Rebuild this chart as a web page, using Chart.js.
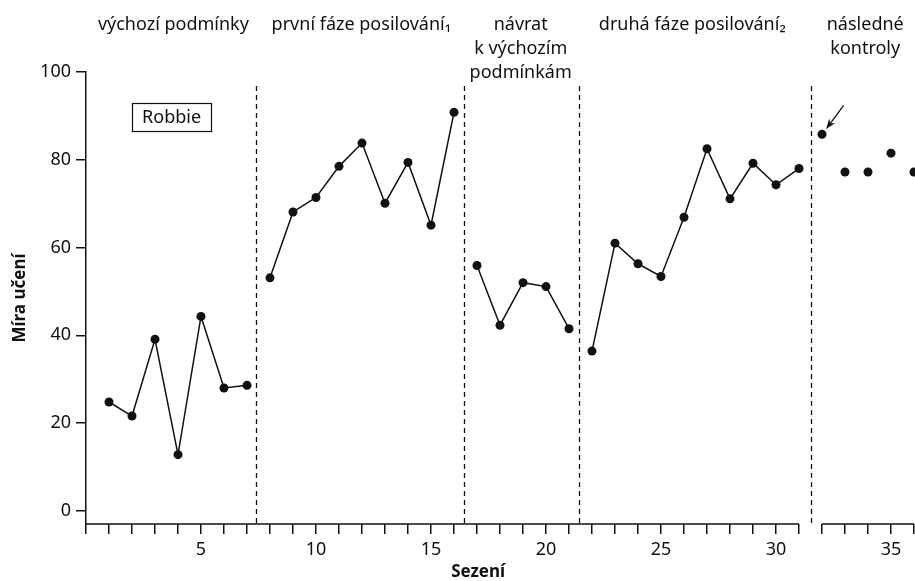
<!DOCTYPE html>
<html lang="cs">

<head>
    <meta charset="UTF-8">
    <title>Míra učení – Robbie</title>
    <script src="https://cdn.jsdelivr.net/npm/chart.js"></script>
    <style>
        html, body { margin: 0; padding: 0; background: #fff; overflow: hidden; }
        #wrap { width: 915px; height: 581px; }
    </style>
</head>

<body>
    <div id="wrap"><canvas id="chart"></canvas></div>

    <script>
        // sessions and measured values per phase
        const baselineSessions = [1, 2, 3, 4, 5, 6, 7];
        const baselineValues = [24.8, 21.6, 39.1, 12.8, 44.3, 28.0, 28.6];

        const reinforce1Sessions = [8, 9, 10, 11, 12, 13, 14, 15, 16];
        const reinforce1Values = [53.1, 68.1, 71.4, 78.5, 83.8, 70.1, 79.4, 65.1, 90.8];

        const reversalSessions = [17, 18, 19, 20, 21];
        const reversalValues = [55.9, 42.3, 52.0, 51.1, 41.5];

        const reinforce2Sessions = [22, 23, 24, 25, 26, 27, 28, 29, 30, 31];
        const reinforce2Values = [36.4, 61.0, 56.3, 53.4, 66.9, 82.5, 71.1, 79.2, 74.3, 78.0];

        const followUpSessions = [32, 33, 34, 35, 36];
        const followUpValues = [85.8, 77.2, 77.2, 81.5, 77.2];

        // phase change lines (session positions)
        const phaseLines = [7.38, 16.44, 21.42, 31.5];

        // phase labels: text lines and the session they are centred on
        const phaseLabels = [
            { at: 3.8, lines: ["výchozí podmínky"] },
            { at: 11.97, lines: ["první fáze posilování₁"] },
            { at: 18.9, lines: ["návrat", "k výchozím", "podmínkám"] },
            { at: 26.36, lines: ["druhá fáze posilování₂"] },
            { at: 33.88, lines: ["následné", "kontroly"] }
        ];

        const yTicks = [0, 20, 40, 60, 80, 100];
        const xLabelTicks = [5, 10, 15, 20, 25, 30, 35];

        const FONT = "'Noto Sans', sans-serif";
        const INK = "#111";

        function toPoints(xs, ys) {
            return xs.map((x, i) => ({ x: x, y: ys[i] }));
        }

        function phaseSet(xs, ys, connected) {
            return {
                data: toPoints(xs, ys),
                showLine: connected,
                borderColor: INK,
                borderWidth: 1.5,
                backgroundColor: INK,
                pointBackgroundColor: INK,
                pointBorderColor: INK,
                pointRadius: 4.5,
                pointBorderWidth: 0,
                clip: false
            };
        }

        // extra drawing: broken x axis, phase lines, labels, name box, arrow
        const decorations = {
            id: "decorations",
            afterDraw(chart) {
                const ctx = chart.ctx;
                const xs = chart.scales.x;
                const ys = chart.scales.y;
                const area = chart.chartArea;
                ctx.save();

                // x axis line, broken between 31 and 32
                ctx.strokeStyle = INK;
                ctx.lineWidth = 1.5;
                ctx.beginPath();
                ctx.moveTo(xs.getPixelForValue(0) - 0.75, area.bottom);
                ctx.lineTo(xs.getPixelForValue(31), area.bottom);
                ctx.moveTo(xs.getPixelForValue(32), area.bottom);
                ctx.lineTo(xs.getPixelForValue(36), area.bottom);
                ctx.stroke();

                // dashed phase lines
                ctx.setLineDash([5, 4]);
                ctx.lineWidth = 1.3;
                phaseLines.forEach(p => {
                    const px = Math.round(xs.getPixelForValue(p)) + 0.5;
                    ctx.beginPath();
                    ctx.moveTo(px, ys.getPixelForValue(96.8));
                    ctx.lineTo(px, area.bottom);
                    ctx.stroke();
                });
                ctx.setLineDash([]);

                // phase labels
                ctx.fillStyle = INK;
                ctx.font = "18px " + FONT;
                ctx.textAlign = "center";
                ctx.textBaseline = "middle";
                phaseLabels.forEach(l => {
                    const px = xs.getPixelForValue(l.at);
                    l.lines.forEach((t, i) => {
                        ctx.fillText(t, px, area.top - 47 + i * 24);
                    });
                });

                // name box
                const bx1 = xs.getPixelForValue(2.0), bx2 = xs.getPixelForValue(5.44);
                const by1 = ys.getPixelForValue(92.9), by2 = ys.getPixelForValue(86.6);
                ctx.lineWidth = 1.2;
                ctx.strokeRect(Math.round(bx1) + 0.5, Math.round(by1) + 0.5,
                    Math.round(bx2 - bx1), Math.round(by2 - by1));
                ctx.font = "18px " + FONT;
                ctx.fillText("Robbie", (bx1 + bx2) / 2, (by1 + by2) / 2 + 1);

                // arrow pointing at first follow-up session
                const ax1 = xs.getPixelForValue(32.94), ay1 = ys.getPixelForValue(92.4);
                const ax2 = xs.getPixelForValue(32.18), ay2 = ys.getPixelForValue(87.0);
                const ang = Math.atan2(ay2 - ay1, ax2 - ax1);
                ctx.lineWidth = 1.3;
                ctx.beginPath();
                ctx.moveTo(ax1, ay1);
                ctx.lineTo(ax2 - 4 * Math.cos(ang), ay2 - 4 * Math.sin(ang));
                ctx.stroke();
                ctx.beginPath();
                ctx.moveTo(ax2, ay2);
                ctx.lineTo(ax2 - 11 * Math.cos(ang - 0.35), ay2 - 11 * Math.sin(ang - 0.35));
                ctx.lineTo(ax2 - 7 * Math.cos(ang), ay2 - 7 * Math.sin(ang));
                ctx.lineTo(ax2 - 11 * Math.cos(ang + 0.35), ay2 - 11 * Math.sin(ang + 0.35));
                ctx.closePath();
                ctx.fill();

                // x axis title
                ctx.font = "bold 17px " + FONT;
                ctx.fillText("Sezení", xs.getPixelForValue(17.05), 572);

                ctx.restore();
            }
        };

        new Chart(document.getElementById("chart"), {
            type: "scatter",
            data: {
                datasets: [
                    phaseSet(baselineSessions, baselineValues, true),
                    phaseSet(reinforce1Sessions, reinforce1Values, true),
                    phaseSet(reversalSessions, reversalValues, true),
                    phaseSet(reinforce2Sessions, reinforce2Values, true),
                    phaseSet(followUpSessions, followUpValues, false)
                ]
            },
            options: {
                responsive: true,
                maintainAspectRatio: false,
                animation: false,
                layout: {
                    autoPadding: false,
                    padding: { top: 72, right: 1, left: 0, bottom: 0 }
                },
                plugins: {
                    legend: { display: false },
                    tooltip: { enabled: false }
                },
                scales: {
                    x: {
                        type: "linear",
                        min: 0,
                        max: 36,
                        afterBuildTicks: s => {
                            s.ticks = [];
                            for (let i = 0; i <= 36; i++) s.ticks.push({ value: i });
                        },
                        afterFit: s => {
                            s.height = 57;
                            s.paddingLeft = 0;
                            s.paddingRight = 0;
                        },
                        border: { display: false },
                        grid: {
                            drawOnChartArea: false,
                            drawTicks: true,
                            tickLength: 10,
                            color: INK,
                            lineWidth: 1.5
                        },
                        ticks: {
                            autoSkip: false,
                            maxRotation: 0,
                            padding: 5,
                            color: INK,
                            font: { family: FONT, size: 18 },
                            callback: v => xLabelTicks.includes(v) ? String(v) : ""
                        }
                    },
                    y: {
                        type: "linear",
                        min: -3,
                        max: 100,
                        afterBuildTicks: s => {
                            s.ticks = yTicks.map(v => ({ value: v }));
                        },
                        afterFit: s => {
                            s.width = 86;
                            s.paddingTop = 0;
                            s.paddingBottom = 0;
                        },
                        border: { display: true, color: INK, width: 1.5 },
                        grid: {
                            drawOnChartArea: false,
                            drawTicks: true,
                            tickLength: 10,
                            color: INK,
                            lineWidth: 1.5
                        },
                        ticks: {
                            padding: 5,
                            color: INK,
                            font: { family: FONT, size: 18 }
                        },
                        title: {
                            display: true,
                            text: "Míra učení",
                            color: INK,
                            padding: { top: 10, bottom: 0 },
                            font: { family: FONT, size: 17, weight: "bold" }
                        }
                    }
                }
            },
            plugins: [decorations]
        });
    </script>
</body>

</html>
